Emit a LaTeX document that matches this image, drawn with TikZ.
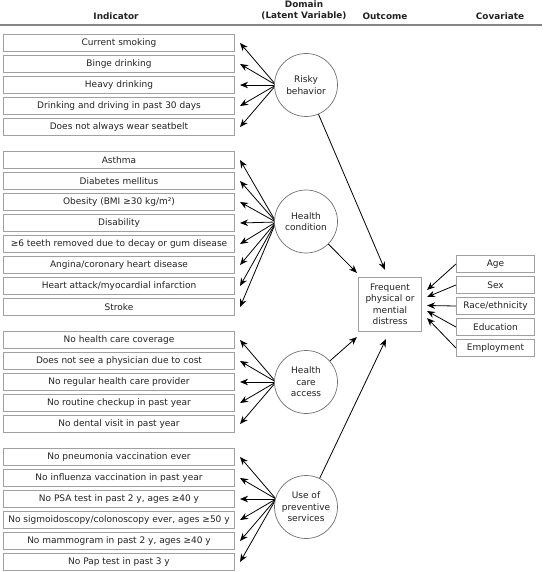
\documentclass[tikz,border=0pt]{standalone}
\usepackage{fontspec}
\setmainfont{DejaVu Sans}
\usetikzlibrary{arrows.meta}
\definecolor{boxgray}{HTML}{A0A0A0}
\definecolor{circgray}{HTML}{707070}
\definecolor{rulegray}{HTML}{858585}
\definecolor{txt}{HTML}{222222}
\begin{document}
\begin{tikzpicture}[x=1pt,y=-1pt,
  ind/.style={draw=boxgray,line width=1.1pt,minimum width=231pt,minimum height=17.5pt,inner sep=0pt,text=txt,font=\fontsize{9}{11}\selectfont},
  cov/.style={ind,minimum width=78pt},
  dom/.style={circle,draw=circgray,line width=0.7pt,fill=white,minimum size=63pt,inner sep=0pt,align=center,text=txt,font=\fontsize{9}{11.5}\selectfont},
  outc/.style={draw=boxgray,line width=1.1pt,minimum width=63pt,minimum height=54pt,inner sep=0pt,align=center,text=txt,font=\fontsize{9}{11.5}\selectfont},
  hdr/.style={font=\fontsize{8.9}{11}\selectfont\bfseries,align=center,text=txt},
  arr/.style={draw=black,line width=0.8pt,-{Stealth[length=8pt,width=6.5pt]}},
]
\useasboundingbox (0,0) rectangle (542,572);
% headers
\node[hdr] (hind) at (116,16) {Indicator};
\node[hdr] (hdom) at (304,10.5) {Domain\\(Latent Variable)};
\node[hdr] (hout) at (385,16) {Outcome};
\node[hdr] (hcov) at (500,16) {Covariate};
\draw[rulegray,line width=2.2pt] (0,25) -- (542,25);
% indicator boxes
\foreach \t [count=\i] in {Current smoking,Binge drinking,Heavy drinking,Drinking and driving in past 30 days,Does not always wear seatbelt}
  \node[ind] (r\i) at (119,{43+21*(\i-1)}) {\t};
\foreach \t [count=\i] in {Asthma,Diabetes mellitus,Obesity (BMI ≥30 kg/m²),Disability,≥6 teeth removed due to decay or gum disease,Angina/coronary heart disease,Heart attack/myocardial infarction,Stroke}
  \node[ind] (h\i) at (119,{160+21*(\i-1)}) {\t};
\foreach \t [count=\i] in {No health care coverage,Does not see a physician due to cost,No regular health care provider,No routine checkup in past year,No dental visit in past year}
  \node[ind] (a\i) at (119,{340+21*(\i-1)}) {\t};
\foreach \t [count=\i] in {No pneumonia vaccination ever,No influenza vaccination in past year,{No PSA test in past 2 y, ages ≥40 y},{No sigmoidoscopy/colonoscopy ever, ages ≥50 y},{No mammogram in past 2 y, ages ≥40 y},No Pap test in past 3 y}
  \node[ind] (p\i) at (119,{457+21*(\i-1)}) {\t};
% covariate boxes
\foreach \t [count=\i] in {Age,Sex,Race/ethnicity,Education,Employment}
  \node[cov] (c\i) at (495.5,{264+21*(\i-1)}) {\t};
% fan focal points
\coordinate (rbf) at (276,85);
\coordinate (hcf) at (276,222);
\coordinate (haf) at (276,382);
\coordinate (upf) at (276,499);
\foreach \i in {1,...,5} \draw[arr] (rbf) -- ([xshift=5pt]r\i.east);
\foreach \i in {1,...,8} \draw[arr] (hcf) -- ([xshift=5pt]h\i.east);
\foreach \i in {1,...,5} \draw[arr] (haf) -- ([xshift=5pt]a\i.east);
\foreach \i in {1,...,6} \draw[arr] (upf) -- ([xshift=5pt]p\i.east);
% domain circles
\node[dom] (rb) at (306,85) {Risky\\behavior};
\node[dom] (hc) at (306,221.5) {Health\\condition};
\node[dom] (ha) at (306,382) {Health\\care\\access};
\node[dom] (up) at (306,507) {Use of\\preventive\\services};
% outcome
\node[outc] (out) at (390,304.5) {Frequent\\physical or\\mential\\distress};
\draw[arr] (rb) -- ([xshift=-5pt,yshift=7pt]out.north);
\draw[arr] (hc) -- ([xshift=-1pt,yshift=4pt]out.north west);
\draw[arr] (ha) -- ([xshift=-1pt,yshift=-5pt]out.south west);
\draw[arr] (up) -- ([xshift=-4pt,yshift=-7pt]out.south);
% covariate arrows
\draw[arr] (c1.west) -- ([xshift=5pt,yshift=14.5pt]out.east);
\draw[arr] (c2.west) -- ([xshift=5pt,yshift=7.5pt]out.east);
\draw[arr] (c3.west) -- ([xshift=5pt,yshift=-1pt]out.east);
\draw[arr] (c4.west) -- ([xshift=5pt,yshift=-6.5pt]out.east);
\draw[arr] (c5.west) -- ([xshift=5pt,yshift=-13.5pt]out.east);
\end{tikzpicture}
\end{document}
